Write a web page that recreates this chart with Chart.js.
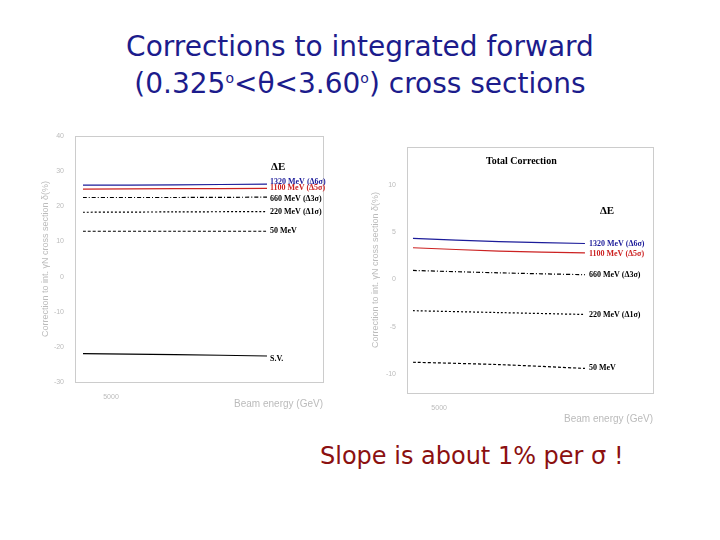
<!DOCTYPE html>
<html><head><meta charset="utf-8">
<script src="https://cdn.jsdelivr.net/npm/chart.js@4"></script>
<style>
body{margin:0;width:720px;height:540px;background:#fff;position:relative;overflow:hidden;font-family:"DejaVu Sans",sans-serif}
.t{position:absolute;left:0;width:720px;text-align:center;color:#1c1c8c;font-size:28px;line-height:40px}
canvas{position:absolute}
</style></head><body>
<div class="t" style="top:27px">Corrections to integrated forward</div>
<div class="t" style="top:64px">(0.325<sup style="font-size:14px;line-height:0">o</sup>&lt;θ&lt;3.60<sup style="font-size:14px;line-height:0">o</sup>) cross sections</div>
<div style="position:absolute;left:320px;top:442px;font-size:24px;color:#8b1010">Slope is about 1% per σ !</div>
<canvas id="c1" style="left:40px;top:120px;width:330px;height:290px"></canvas>
<canvas id="c2" style="left:370px;top:135px;width:320px;height:290px"></canvas>
<script>
const beamEnergy=[3600,8200,12800];
const seriesNames=['1320 MeV (Δ6σ)','1100 MeV (Δ5σ)','660 MeV (Δ3σ)','220 MeV (Δ1σ)','50 MeV','S.V.'];
const leftValues=[[26.0,26.1,26.3],[24.9,25.0,25.1],[22.5,22.5,22.6],[18.3,18.4,18.5],[12.9,12.9,12.9],[-21.9,-22.2,-22.6]];
const rightValues=[[4.35,4.0,3.8],[3.35,3.0,2.8],[0.95,0.7,0.5],[-3.3,-3.5,-3.7],[-8.75,-9.0,-9.4]];
const leftTicks=[-30,-20,-10,0,10,20,30,40];
const rightTicks=[-10,-5,0,5,10];
const colors=['#1c1c9a','#cc2222','#000','#000','#000','#000'];
const dashes=[[],[],[4,2,1,2],[2,2],[3,2],[]];
const labelColors=['#1c1c9a','#cc2222','#000','#000','#000','#000'];

function mk(id,w,h,vals,ymin,ymax,yt,xmin,xmax,pad,xh,yw,extra){
  const cv=document.getElementById(id);
  const ds=vals.map((v,i)=>({label:seriesNames[i],data:beamEnergy.map((x,j)=>({x,y:v[j]})),borderColor:colors[i],borderDash:dashes[i],borderWidth:1.2,pointRadius:0,tension:0.3}));
  new Chart(cv,{type:'line',data:{datasets:ds},options:{responsive:false,animation:false,devicePixelRatio:1,
    layout:{padding:{right:pad,top:extra.top}},
    plugins:{legend:{display:false},tooltip:{enabled:false}},
    scales:{
      x:{type:'linear',min:xmin,max:xmax,afterBuildTicks:a=>{a.ticks=[{value:5000}]},grid:{display:false,drawTicks:true},border:{color:'#bbb'},
        ticks:{color:'#bbb',font:{size:7},callback:v=>v},title:{display:true,text:'Beam energy (GeV)',align:'end',color:'#bbb',font:{size:10},padding:0},afterFit:a=>{a.height=xh}},
      y:{min:ymin,max:ymax,afterBuildTicks:a=>{a.ticks=yt.map(v=>({value:v}))},grid:{display:false},border:{color:'#bbb'},
        ticks:{color:'#bbb',font:{size:7}},title:{display:true,text:'Correction to int. γN cross section δ(%)',color:'#bbb',font:{size:9},padding:0},afterFit:a=>{a.width=yw}}
    }},
    plugins:[{id:'lab',afterDraw(c){const g=c.ctx,xs=c.scales.x,ys=c.scales.y,a=c.chartArea;g.save();
      g.strokeStyle='#ccc';g.lineWidth=1;g.strokeRect(a.left+0.5,a.top+0.5,a.right-a.left,a.bottom-a.top);
      g.font='bold 8px "Liberation Serif"';g.textBaseline='middle';
      vals.forEach((v,i)=>{g.fillStyle=labelColors[i];g.fillText(seriesNames[i],xs.getPixelForValue(beamEnergy[2])+extra.dx,ys.getPixelForValue(v[2])+(extra.off[i]||0));});
      g.fillStyle='#000';g.font='bold 11px "Liberation Serif"';g.fillText('ΔE',xs.getPixelForValue(extra.de[0]),ys.getPixelForValue(extra.de[1]));
      if(extra.tc){g.font='bold 10px "Liberation Serif"';g.fillText('Total Correction',xs.getPixelForValue(extra.tc[0]),ys.getPixelForValue(extra.tc[1]));}
      g.restore();}}]
  });
}
mk('c1',330,290,leftValues,-30,40,leftTicks,3200,15600,47,28,35,{top:16,dx:3,off:[-2,0,2,0,0,3],de:[13000,31]});
mk('c2',320,290,rightValues,-12,14,rightTicks,3280,16440,37,32,37,{top:12,dx:4,off:[0,1,0,0,0],de:[13600,7.2],tc:[7500,12.5]});
</script></body></html>
